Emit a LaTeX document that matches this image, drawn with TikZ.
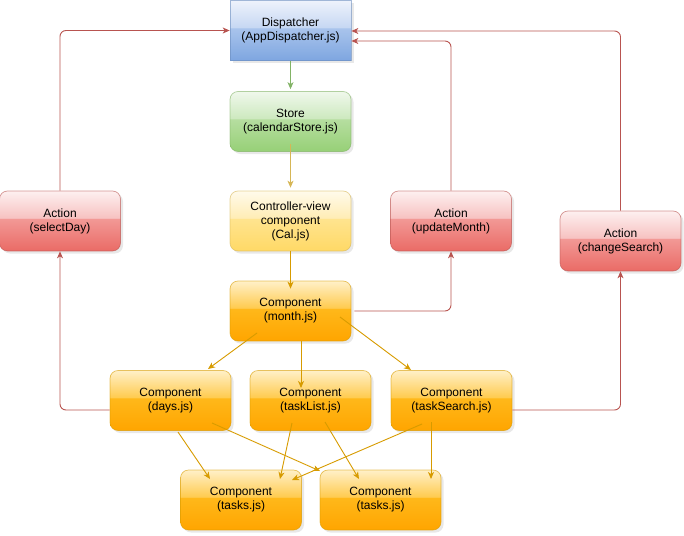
\documentclass[tikz,border=0pt]{standalone}
\usepackage{fontspec}
\setmainfont{Liberation Sans}
\usetikzlibrary{arrows.meta,shadows,calc}

\definecolor{actA}{HTML}{EA6B66}
\definecolor{actB}{HTML}{F29996}
\definecolor{actC}{HTML}{F7C2C1}
\definecolor{actD}{HTML}{FDF0F0}
\definecolor{actS}{HTML}{B85450}

\definecolor{dspA}{HTML}{7EA6E0}
\definecolor{dspB}{HTML}{A9C4EC}
\definecolor{dspC}{HTML}{C6D8F3}
\definecolor{dspD}{HTML}{EEF3FC}
\definecolor{dspS}{HTML}{6C8EBF}

\definecolor{stoA}{HTML}{97D077}
\definecolor{stoB}{HTML}{B6DEA0}
\definecolor{stoC}{HTML}{CDE9BF}
\definecolor{stoD}{HTML}{F0F8EC}
\definecolor{stoS}{HTML}{82B366}

\definecolor{ctlA}{HTML}{FFD966}
\definecolor{ctlB}{HTML}{FFE48F}
\definecolor{ctlC}{HTML}{FFEDB5}
\definecolor{ctlD}{HTML}{FFFAEB}
\definecolor{ctlS}{HTML}{D6B656}

\definecolor{cmpA}{HTML}{FFA500}
\definecolor{cmpB}{HTML}{FFB81A}
\definecolor{cmpC}{HTML}{FFCB4F}
\definecolor{cmpD}{HTML}{FFF0C8}
\definecolor{cmpS}{HTML}{D79B00}

\pgfdeclareverticalshading{actshade}{100bp}{color(0bp)=(actA); color(25bp)=(actA); color(52bp)=(actB); color(52.5bp)=(actC); color(75bp)=(actD); color(100bp)=(actD)}
\pgfdeclareverticalshading{dspshade}{100bp}{color(0bp)=(dspA); color(25bp)=(dspA); color(52bp)=(dspB); color(52.5bp)=(dspC); color(75bp)=(dspD); color(100bp)=(dspD)}
\pgfdeclareverticalshading{stoshade}{100bp}{color(0bp)=(stoA); color(25bp)=(stoA); color(52bp)=(stoB); color(52.5bp)=(stoC); color(75bp)=(stoD); color(100bp)=(stoD)}
\pgfdeclareverticalshading{ctlshade}{100bp}{color(0bp)=(ctlA); color(25bp)=(ctlA); color(52bp)=(ctlB); color(52.5bp)=(ctlC); color(75bp)=(ctlD); color(100bp)=(ctlD)}
\pgfdeclareverticalshading{cmpshade}{100bp}{color(0bp)=(cmpA); color(25bp)=(cmpA); color(52bp)=(cmpB); color(52.5bp)=(cmpC); color(75bp)=(cmpD); color(100bp)=(cmpD)}

\begin{document}
\begin{tikzpicture}[x=1pt,y=-1pt,
  box/.style={minimum width=121pt, minimum height=60pt, align=center, inner sep=0pt,
    font=\fontsize{12pt}{14pt}\selectfont, line width=0.7pt, draw opacity=0.6,
    drop shadow={shadow xshift=2.5pt,shadow yshift=-2.5pt,opacity=0.18}},
  dspbox/.style={box, draw=dspS, shading=dspshade},
  stobox/.style={box, rounded corners=8pt, draw=stoS, shading=stoshade},
  ctlbox/.style={box, rounded corners=8pt, draw=ctlS, shading=ctlshade},
  actbox/.style={box, rounded corners=8pt, draw=actS, shading=actshade},
  cmpbox/.style={box, rounded corners=8pt, draw=cmpS, shading=cmpshade},
  tip/.style={-{Stealth[length=7pt,width=6pt,inset=2pt]}},
  redarr/.style={tip, draw=actS, line width=0.9pt, rounded corners=6pt},
  grnarr/.style={tip, draw=stoS, line width=0.9pt},
  ylwarr/.style={tip, draw=ctlS, line width=0.9pt},
  gldarr/.style={tip, draw=cmpS, line width=0.9pt}
]
\useasboundingbox (0,0) rectangle (684,535);

% nodes
\node[dspbox] (disp) at (290.5,30.5) {Dispatcher\\(AppDispatcher.js)};
\node[stobox] (store) at (290.5,121.5) {Store\\(calendarStore.js)};
\node[ctlbox] (ctrl) at (290.5,221) {Controller-view\\component\\(Cal.js)};
\node[actbox] (sel) at (60,221) {Action\\(selectDay)};
\node[actbox] (upd) at (451,221) {Action\\(updateMonth)};
\node[actbox] (chg) at (620.5,241) {Action\\(changeSearch)};
\node[cmpbox] (month) at (290.5,311) {Component\\(month.js)};
\node[cmpbox] (days) at (170.5,400.5) {Component\\(days.js)};
\node[cmpbox] (tlist) at (310.5,400.5) {Component\\(taskList.js)};
\node[cmpbox] (tsearch) at (451.5,400.5) {Component\\(taskSearch.js)};
\node[cmpbox] (tasksa) at (241,500) {Component\\(tasks.js)};
\node[cmpbox] (tasksb) at (380.5,500) {Component\\(tasks.js)};

% vertical flow
\draw[grnarr, shorten >=2pt] (disp) -- (store);
\draw[ylwarr, shorten >=3pt] ($(store.south)+(0,-8)$) -- (ctrl.north);
\draw[gldarr] (ctrl.south) -- ($(month.north)+(0,8)$);

% component tree
\draw[gldarr] ($(month.center)+(-33.5,22)$) -- ($(days.center)+(37.5,-31.5)$);
\draw[gldarr] ($(month.center)+(10.5,30)$) -- ($(tlist.center)+(-9.5,-12.5)$);
\draw[gldarr] ($(month.center)+(49.5,6)$) -- ($(tsearch.center)+(-40.5,-30.5)$);
\draw[gldarr] ($(days.center)+(7.5,31.5)$) -- ($(tasksa.center)+(-31,-21)$);
\draw[gldarr] ($(days.center)+(41.5,22.5)$) -- ($(tasksb.center)+(-60.5,-29)$);
\draw[gldarr] ($(tlist.center)+(-18.5,22.5)$) -- ($(tasksa.center)+(39,-21)$);
\draw[gldarr] ($(tlist.center)+(14.5,21.5)$) -- ($(tasksb.center)+(-21.5,-21)$);
\draw[gldarr] ($(tsearch.center)+(-29.5,23.5)$) -- ($(tasksa.center)+(51,-20)$);
\draw[gldarr] ($(tsearch.center)+(-20.5,21.5)$) -- ($(tasksb.center)+(50.5,-21)$);

% actions
\draw[redarr] (sel.north) |- (disp.west);
\draw[redarr] ($(days.west)+(0,9.5)$) -| (sel.south);
\draw[redarr] ($(month.east)+(3,0)$) -| (upd.south);
\draw[redarr] (upd.north) |- ($(disp.east)+(0,10.5)$);
\draw[redarr] ($(tsearch.east)+(0,9.5)$) -| (chg.south);
\draw[redarr] (chg.north) |- ($(disp.east)+(0,0.5)$);
\end{tikzpicture}
\end{document}
